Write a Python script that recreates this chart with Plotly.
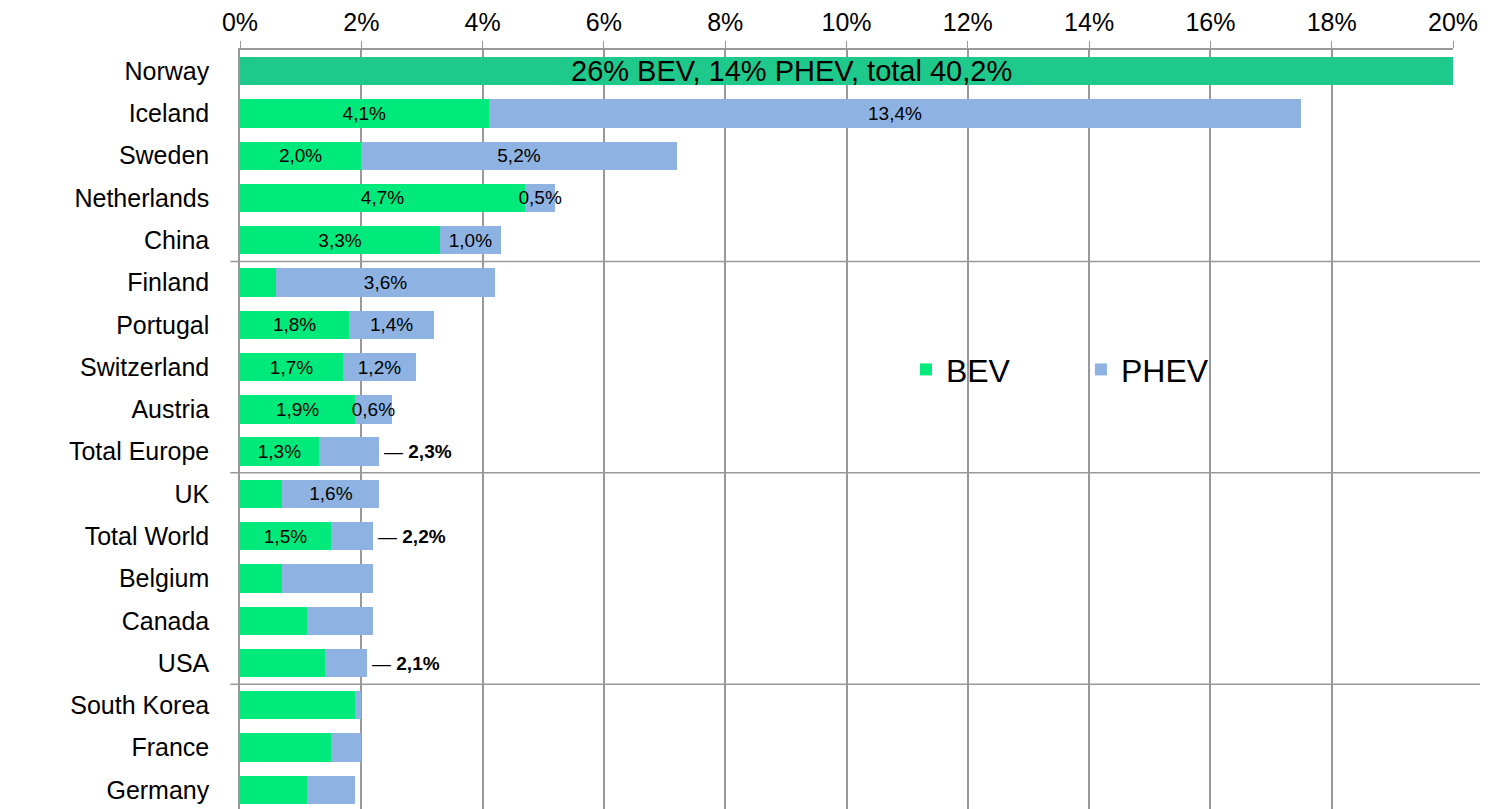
import plotly.graph_objects as go

# %% data
countries = ["Norway", "Iceland", "Sweden", "Netherlands", "China",
             "Finland", "Portugal", "Switzerland", "Austria", "Total Europe",
             "UK", "Total World", "Belgium", "Canada", "USA",
             "South Korea", "France", "Germany"]
bev = [26.0, 4.1, 2.0, 4.7, 3.3,
       0.6, 1.8, 1.7, 1.9, 1.3,
       0.7, 1.5, 0.7, 1.1, 1.4,
       1.9, 1.5, 1.1]
phev = [14.0, 13.4, 5.2, 0.5, 1.0,
        3.6, 1.4, 1.2, 0.6, 1.0,
        1.6, 0.7, 1.5, 1.1, 0.7,
        0.1, 0.5, 0.8]
bev_labels = ["", "4,1%", "2,0%", "4,7%", "3,3%",
              "", "1,8%", "1,7%", "1,9%", "1,3%",
              "", "1,5%", "", "", "",
              "", "", ""]
phev_labels = ["", "13,4%", "5,2%", "0,5%", "1,0%",
               "3,6%", "1,4%", "1,2%", "0,6%", "",
               "1,6%", "", "", "", "",
               "", "", ""]
norway_total = 40.2
norway_text = "26% BEV, 14% PHEV, total 40,2%"
totals = {"Total Europe": "2,3%", "Total World": "2,2%", "USA": "2,1%"}
x_ticks = [0, 2, 4, 6, 8, 10, 12, 14, 16, 18, 20]
separators_after = ["China", "Total Europe", "USA"]

BEV_COLOR = "#00E97B"
PHEV_COLOR = "#8EB3E2"
NORWAY_COLOR = "#1FC98C"
GRID = "#999999"
FONT = "Liberation Sans"

rest = countries[1:]

fig = go.Figure()
fig.add_trace(go.Bar(
    y=[countries[0]], x=[norway_total], orientation="h",
    marker=dict(color=NORWAY_COLOR, line_width=0), showlegend=False,
    hoverinfo="skip",
))
fig.add_trace(go.Bar(
    y=rest, x=bev[1:], name="BEV", orientation="h",
    marker=dict(color=BEV_COLOR, line_width=0),
    text=bev_labels[1:], textposition="inside", insidetextanchor="middle",
    textfont=dict(color="black", size=19, family=FONT),
))
fig.add_trace(go.Bar(
    y=rest, x=phev[1:], name="PHEV", orientation="h",
    marker=dict(color=PHEV_COLOR, line_width=0),
    text=phev_labels[1:], textposition="inside", insidetextanchor="middle",
    textfont=dict(color="black", size=19, family=FONT),
))

# Norway label
fig.add_annotation(x=9.1, y=countries[0], text=norway_text, showarrow=False,
                   font=dict(size=29, color="black", family=FONT))

# totals with dash
for c, lab in totals.items():
    i = countries.index(c)
    fig.add_annotation(x=bev[i] + phev[i], y=c, text="— <b>" + lab + "</b>",
                       showarrow=False, xanchor="left", xshift=3,
                       font=dict(size=19, color="black", family=FONT))

# group separators
for c in separators_after:
    i = countries.index(c)
    fig.add_shape(type="line", xref="paper", yref="y", x0=-0.008, x1=1.03,
                  y0=i + 0.5, y1=i + 0.5, line=dict(color=GRID, width=1.5),
                  layer="below")

fig.update_layout(
    barmode="stack",
    bargap=0.33,
    width=1488, height=809,
    margin=dict(l=232, r=43, t=42, b=6, autoexpand=False),
    plot_bgcolor="white", paper_bgcolor="white",
    font=dict(family=FONT, color="black"),
    uniformtext=dict(minsize=19, mode="show"),
    legend=dict(orientation="h", traceorder="normal", x=0.549, y=0.58,
                xanchor="left", yanchor="middle",
                font=dict(size=32), bgcolor="rgba(0,0,0,0)", itemwidth=30,
                entrywidthmode="pixels", entrywidth=130),
    xaxis=dict(side="top", range=[0, 20], tickvals=x_ticks,
               ticktext=[f"{t}%" for t in x_ticks], automargin=False,
               showgrid=True, gridcolor=GRID, gridwidth=1.5,
               showline=True, linecolor=GRID, linewidth=1.5,
               ticks="outside", ticklen=7, tickcolor=GRID,
               tickfont=dict(size=25), zeroline=False, fixedrange=True),
    yaxis=dict(categoryorder="array", categoryarray=countries, autorange="reversed",
               showline=True, linecolor=GRID, linewidth=1.5, automargin=False,
               tickfont=dict(size=25), ticks="", ticklabelstandoff=24),
)

fig.write_html("out.html")
